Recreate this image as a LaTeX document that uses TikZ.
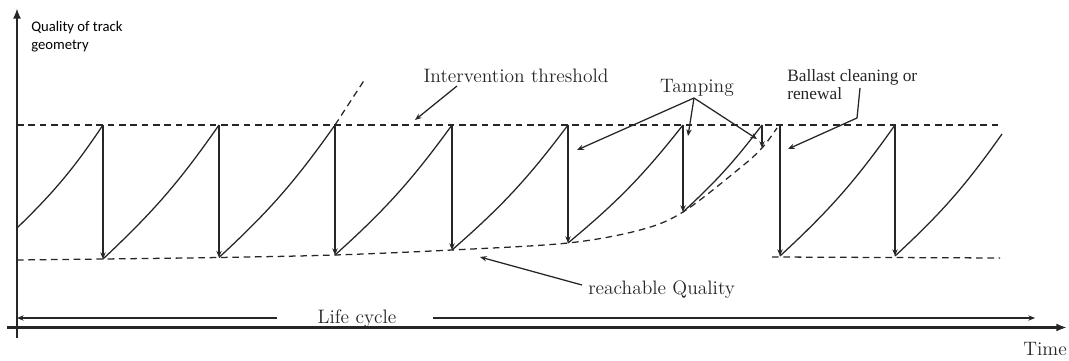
\documentclass[tikz,border=0pt]{standalone}
\usepackage{fontspec}
\newfontfamily\labelsans{Carlito}
\newfontfamily\noteserif{Liberation Serif}
\usetikzlibrary{arrows.meta}

\begin{document}
\begin{tikzpicture}[x=0.75pt,y=-0.75pt,
  ln/.style={line width=0.95pt, draw=black!85},
  axisline/.style={line width=1.8pt, draw=black!85, -{Latex[length=8pt,width=6pt]}},
  drop/.style={ln, -{Stealth[length=5pt,width=4pt]}},
  callout/.style={ln, -{Stealth[length=5pt,width=4pt]}},
  limitline/.style={ln, dash pattern=on 5pt off 3.5pt},
  wear/.style={bend right=6},
  big/.style={font=\fontsize{14.6}{17}\selectfont, inner sep=0pt, text=black!85},
]
\useasboundingbox (0,0) rectangle (1069,360);

% axes
\coordinate (yb) at (17,338);
\coordinate (yt) at (17,8);
\coordinate (xl) at (7,327.5);
\coordinate (xr) at (1067,327.5);
\draw[axisline] (yb) -- (yt);
\draw[axisline] (xl) -- (xr);

\node[font=\labelsans\fontsize{11}{13.5}\selectfont, anchor=north west, align=left, inner sep=0pt] (qlabel) at (31,21) {Quality of track\\geometry};
\node[big, anchor=base] (time) at (1045,355) {Time};

% intervention threshold
\coordinate (thL) at (17,125);
\coordinate (thR) at (1000,125);
\draw[limitline] (thL) -- (thR);

% peaks and troughs of the track quality
\coordinate (s0) at (17,228);
\coordinate (p1) at (103,125);  \coordinate (t1) at (103,259);
\coordinate (p2) at (219,125);  \coordinate (t2) at (219,257.5);
\coordinate (p3) at (335,125);  \coordinate (t3) at (335,255);
\coordinate (p4) at (452,125);  \coordinate (t4) at (452,250);
\coordinate (p5) at (568,125);  \coordinate (t5) at (568,243);
\coordinate (p6) at (683,125);  \coordinate (t6) at (683,212);
\coordinate (p7) at (762,125);  \coordinate (t7) at (762,148);
\coordinate (p8) at (780,125);  \coordinate (t8) at (780,256);
\coordinate (p9) at (895,125);  \coordinate (t9) at (895,256);
\coordinate (e9) at (1002,134);

% degradation curves
\draw[ln] (s0) to[wear] (p1);
\draw[ln] (t1) to[wear] (p2);
\draw[ln] (t2) to[wear] (p3);
\draw[ln] (t3) to[wear] (p4);
\draw[ln] (t4) to[wear] (p5);
\draw[ln] (t5) to[wear] (p6);
\draw[ln] (t6) to[bend right=5] (p7);
\draw[ln] (t8) to[wear] (p9);
\draw[ln] (t9) to[wear] (e9);

% maintenance drops
\foreach \i in {1,...,9} \draw[drop] (p\i) -- (t\i);

% reachable quality
\draw[limitline] plot[smooth, tension=0.55] coordinates {(17,260) (t1) (t2) (t3) (t4) (t5) (640,230) (t6) (740,168) (t7) (777,128)};
\coordinate (rqL) at (772,257);
\coordinate (rqR) at (1000,258);
\draw[limitline] (rqL) -- (rqR);

% unmaintained continuation
\coordinate (ext) at (365,79);
\draw[limitline] (p3) -- (ext);

% labels and call-outs
\node[big, anchor=base] (thr) at (516,82) {Intervention threshold};
\coordinate (thrFrom) at (457,86);
\coordinate (thrTo) at (415,120);
\draw[callout] (thrFrom) -- (thrTo);

\node[big, anchor=base] (tamp) at (697,93) {Tamping};
\coordinate (tampFrom) at (694,98);
\coordinate (tampA) at (577,150);
\coordinate (tampB) at (688,136);
\coordinate (tampC) at (757,139);
\draw[callout] (tampFrom) -- (tampA);
\draw[callout] (tampFrom) -- (tampB);
\draw[callout] (tampFrom) -- (tampC);

\node[font=\noteserif\fontsize{13}{13.5}\selectfont, anchor=north west, align=left, inner sep=0pt, text=black!85] (ball) at (787,69) {Ballast cleaning or\\renewal};
\coordinate (ballFrom) at (860,88);
\coordinate (ballBend) at (857,118);
\coordinate (ballTo) at (788,149);
\draw[callout] (ballFrom) -- (ballBend) -- (ballTo);

\node[big, anchor=base west] (reach) at (588,294) {reachable Quality};
\coordinate (reachFrom) at (582,285);
\coordinate (reachTo) at (480,257);
\draw[callout] (reachFrom) -- (reachTo);

% life cycle
\node[big, anchor=base] (life) at (357,323) {Life cycle};
\coordinate (lcL) at (17,318);
\coordinate (lcA) at (277,318);
\coordinate (lcB) at (433,318);
\coordinate (lcR) at (1035,318);
\draw[callout] (lcA) -- (lcL);
\draw[callout] (lcB) -- (lcR);
\end{tikzpicture}
\end{document}
